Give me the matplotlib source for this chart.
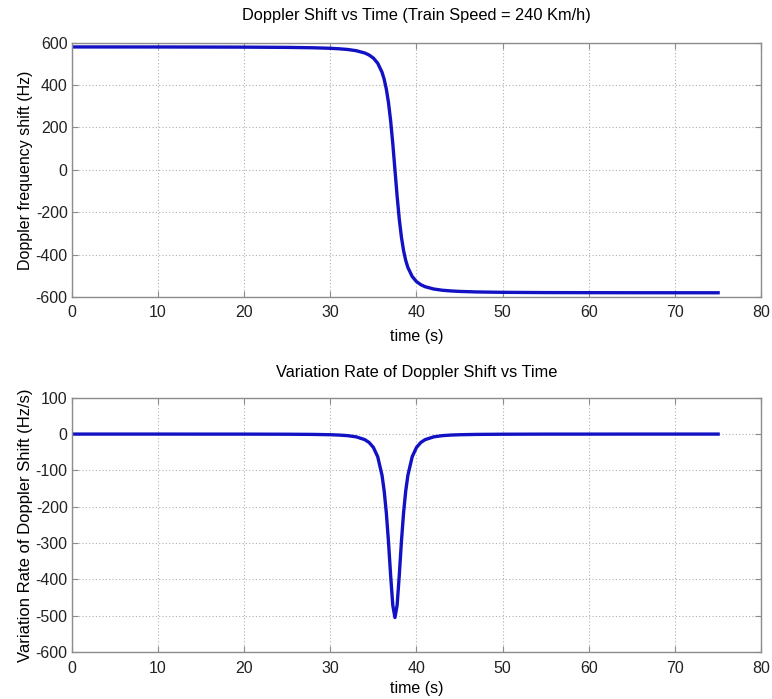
import matplotlib
matplotlib.use("Agg")
import matplotlib.pyplot as plt

# values
time_s = [0, 5, 10, 15, 20, 25, 28, 30, 31, 32, 33, 34, 34.5, 35, 35.5, 36,
          36.25, 36.5, 36.75, 37, 37.25, 37.5, 37.75, 38, 38.25, 38.5, 38.75,
          39, 39.5, 40, 40.5, 41, 42, 43, 44, 45, 47, 50, 55, 60, 65, 70, 75]

doppler_hz = [579.7, 579.6, 579.5, 579.2, 578.8, 577.6, 575.8, 573.3, 571.1,
              567.8, 562.0, 551.1, 541.6, 527.0, 502.9, 460.4, 427.0, 380.8,
              317.0, 231.4, 123.3, 0.0, -123.3, -231.4, -317.0, -380.8,
              -427.0, -460.4, -502.9, -527.0, -541.6, -551.1, -562.0, -567.8,
              -571.1, -573.3, -575.8, -577.6, -578.8, -579.2, -579.5, -579.6,
              -579.7]

rate_hz_s = [0.0, 0.0, 0.0, -0.1, -0.1, -0.4, -0.9, -1.8, -2.7, -4.3, -7.6,
             -15.3, -23.1, -36.8, -62.4, -113.5, -156.5, -216.7, -296.4,
             -389.2, -471.0, -504.8, -471.0, -389.2, -296.4, -216.7, -156.5,
             -113.5, -62.4, -36.8, -23.1, -15.3, -7.6, -4.3, -2.7, -1.8, -0.9,
             -0.4, -0.1, -0.1, 0.0, 0.0, 0.0]

plt.rcParams['font.family'] = ['Liberation Sans', 'DejaVu Sans']
plt.rcParams['axes.unicode_minus'] = False

line_color = '#1212c4'
frame_color = '#8c8c8c'

fig = plt.figure(figsize=(7.72, 6.99), dpi=100)
ax1 = fig.add_axes([0.093, 0.575, 0.893, 0.364])
ax2 = fig.add_axes([0.093, 0.067, 0.893, 0.364])


def style(ax):
    ax.grid(True, linestyle=(0, (1, 2)), color='#b0b0b0', linewidth=0.8)
    for s in ax.spines.values():
        s.set_color(frame_color)
        s.set_linewidth(1.0)
    ax.tick_params(direction='in', length=4, color=frame_color,
                   labelcolor='#222222', labelsize=11.5, top=True, right=True)
    ax.tick_params(axis='x', pad=6)
    ax.tick_params(axis='y', pad=3)
    ax.set_xlim(0, 80)
    ax.set_xticks(range(0, 81, 10))


ax1.plot(time_s, doppler_hz, color=line_color, linewidth=2.4)
style(ax1)
ax1.set_ylim(-600, 600)
ax1.set_yticks(range(-600, 601, 200))
ax1.set_title("Doppler Shift vs Time (Train Speed = 240 Km/h)", fontsize=11.8, pad=16)
ax1.set_xlabel("time (s)", fontsize=11.5, labelpad=6)
ax1.set_ylabel("Doppler frequency shift (Hz)", fontsize=11.5, labelpad=2)

ax2.plot(time_s, rate_hz_s, color=line_color, linewidth=2.4)
style(ax2)
ax2.set_ylim(-600, 100)
ax2.set_yticks(range(-600, 101, 100))
ax2.set_title("Variation Rate of Doppler Shift vs Time", fontsize=11.8, pad=15)
ax2.set_xlabel("time (s)", fontsize=11.5, labelpad=4)
ax2.set_ylabel("Variation Rate of Doppler Shift (Hz/s)", fontsize=12, labelpad=2)

fig.savefig("out.png", dpi=100)
